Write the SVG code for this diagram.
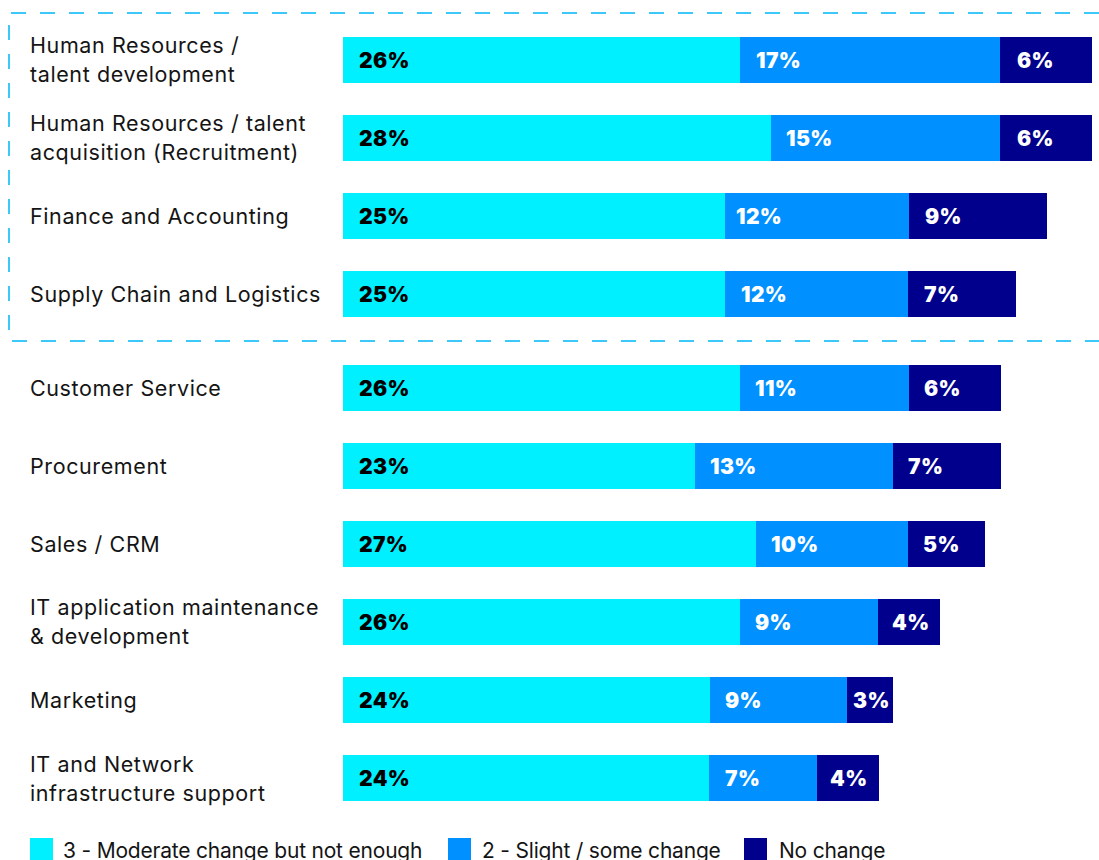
<svg xmlns="http://www.w3.org/2000/svg" width="1099" height="860" viewBox="0 0 1099 860">
<style>
.c{fill:#00F0FF}.b{fill:#0090FF}.n{fill:#00008C}
.lab{font-family:Inter,"Liberation Sans",sans-serif;font-size:21.5px;letter-spacing:0.6px;fill:#141414}
.lg{font-family:Inter,"Liberation Sans",sans-serif;font-size:21px;letter-spacing:-0.2px;fill:#141414}
.v{font-family:Inter,"Liberation Sans",sans-serif;font-size:21px;font-weight:900;letter-spacing:0.4px}
.vk{fill:#000}.vw{fill:#fff}
.box{fill:none;stroke:#3CC8F8;stroke-width:2;stroke-dasharray:15 14}
</style>
<rect width="1099" height="860" fill="#fff"/>
<g id="highlight"><path class="box" d="M1099 13 H9 V341 H1099"/></g>
<g id="row1">
<rect class="c" x="343" y="37" width="397" height="46"/><rect class="b" x="740" y="37" width="260" height="46"/><rect class="n" x="1000" y="37" width="92" height="46"/>
<text class="lab" x="30" y="53">Human Resources /</text><text class="lab" x="30" y="82">talent development</text>
<text class="v vk" x="359" y="68">26%</text><text class="v vw" x="756" y="68">17%</text><text class="v vw" x="1017" y="68">6%</text>
</g>
<g id="row2">
<rect class="c" x="343" y="115" width="428" height="46"/><rect class="b" x="771" y="115" width="229" height="46"/><rect class="n" x="1000" y="115" width="92" height="46"/>
<text class="lab" x="30" y="131">Human Resources / talent</text><text class="lab" x="30" y="160">acquisition (Recruitment)</text>
<text class="v vk" x="359" y="146">28%</text><text class="v vw" x="786" y="146">15%</text><text class="v vw" x="1017" y="146">6%</text>
</g>
<g id="row3">
<rect class="c" x="343" y="193" width="382" height="46"/><rect class="b" x="725" y="193" width="184" height="46"/><rect class="n" x="909" y="193" width="138" height="46"/>
<text class="lab" x="30" y="224">Finance and Accounting</text>
<text class="v vk" x="359" y="224">25%</text><text class="v vw" x="736" y="224">12%</text><text class="v vw" x="925" y="224">9%</text>
</g>
<g id="row4">
<rect class="c" x="343" y="271" width="382" height="46"/><rect class="b" x="725" y="271" width="183" height="46"/><rect class="n" x="908" y="271" width="108" height="46"/>
<text class="lab" x="30" y="302">Supply Chain and Logistics</text>
<text class="v vk" x="359" y="302">25%</text><text class="v vw" x="741" y="302">12%</text><text class="v vw" x="924" y="302">7%</text>
</g>
<g id="row5">
<rect class="c" x="343" y="365" width="397" height="46"/><rect class="b" x="740" y="365" width="169" height="46"/><rect class="n" x="909" y="365" width="92" height="46"/>
<text class="lab" x="30" y="396">Customer Service</text>
<text class="v vk" x="359" y="396">26%</text><text class="v vw" x="755" y="396">11%</text><text class="v vw" x="924" y="396">6%</text>
</g>
<g id="row6">
<rect class="c" x="343" y="443" width="352" height="46"/><rect class="b" x="695" y="443" width="198" height="46"/><rect class="n" x="893" y="443" width="108" height="46"/>
<text class="lab" x="30" y="474">Procurement</text>
<text class="v vk" x="359" y="474">23%</text><text class="v vw" x="710" y="474">13%</text><text class="v vw" x="908" y="474">7%</text>
</g>
<g id="row7">
<rect class="c" x="343" y="521" width="413" height="46"/><rect class="b" x="756" y="521" width="152" height="46"/><rect class="n" x="908" y="521" width="77" height="46"/>
<text class="lab" x="30" y="552">Sales / CRM</text>
<text class="v vk" x="359" y="552">27%</text><text class="v vw" x="771" y="552">10%</text><text class="v vw" x="923" y="552">5%</text>
</g>
<g id="row8">
<rect class="c" x="343" y="599" width="397" height="46"/><rect class="b" x="740" y="599" width="138" height="46"/><rect class="n" x="878" y="599" width="62" height="46"/>
<text class="lab" x="30" y="615">IT application maintenance</text><text class="lab" x="30" y="644">&amp; development</text>
<text class="v vk" x="359" y="630">26%</text><text class="v vw" x="755" y="630">9%</text><text class="v vw" x="892" y="630">4%</text>
</g>
<g id="row9">
<rect class="c" x="343" y="677" width="367" height="46"/><rect class="b" x="710" y="677" width="137" height="46"/><rect class="n" x="847" y="677" width="46" height="46"/>
<text class="lab" x="30" y="708">Marketing</text>
<text class="v vk" x="359" y="708">24%</text><text class="v vw" x="725" y="708">9%</text><text class="v vw" x="853" y="708">3%</text>
</g>
<g id="row10">
<rect class="c" x="343" y="755" width="366" height="46"/><rect class="b" x="709" y="755" width="108" height="46"/><rect class="n" x="817" y="755" width="62" height="46"/>
<text class="lab" x="30" y="772">IT and Network</text><text class="lab" x="30" y="801">infrastructure support</text>
<text class="v vk" x="359" y="786">24%</text><text class="v vw" x="725" y="786">7%</text><text class="v vw" x="830" y="786">4%</text>
</g>
<g id="legend">
<rect class="c" x="30" y="838" width="23" height="23"/><text class="lg" x="63" y="858">3 - Moderate change but not enough</text>
<rect class="b" x="448" y="838" width="23" height="23"/><text class="lg" x="482" y="858">2 - Slight / some change</text>
<rect class="n" x="744" y="838" width="23" height="23"/><text class="lg" x="779" y="858">No change</text>
</g>
</svg>
